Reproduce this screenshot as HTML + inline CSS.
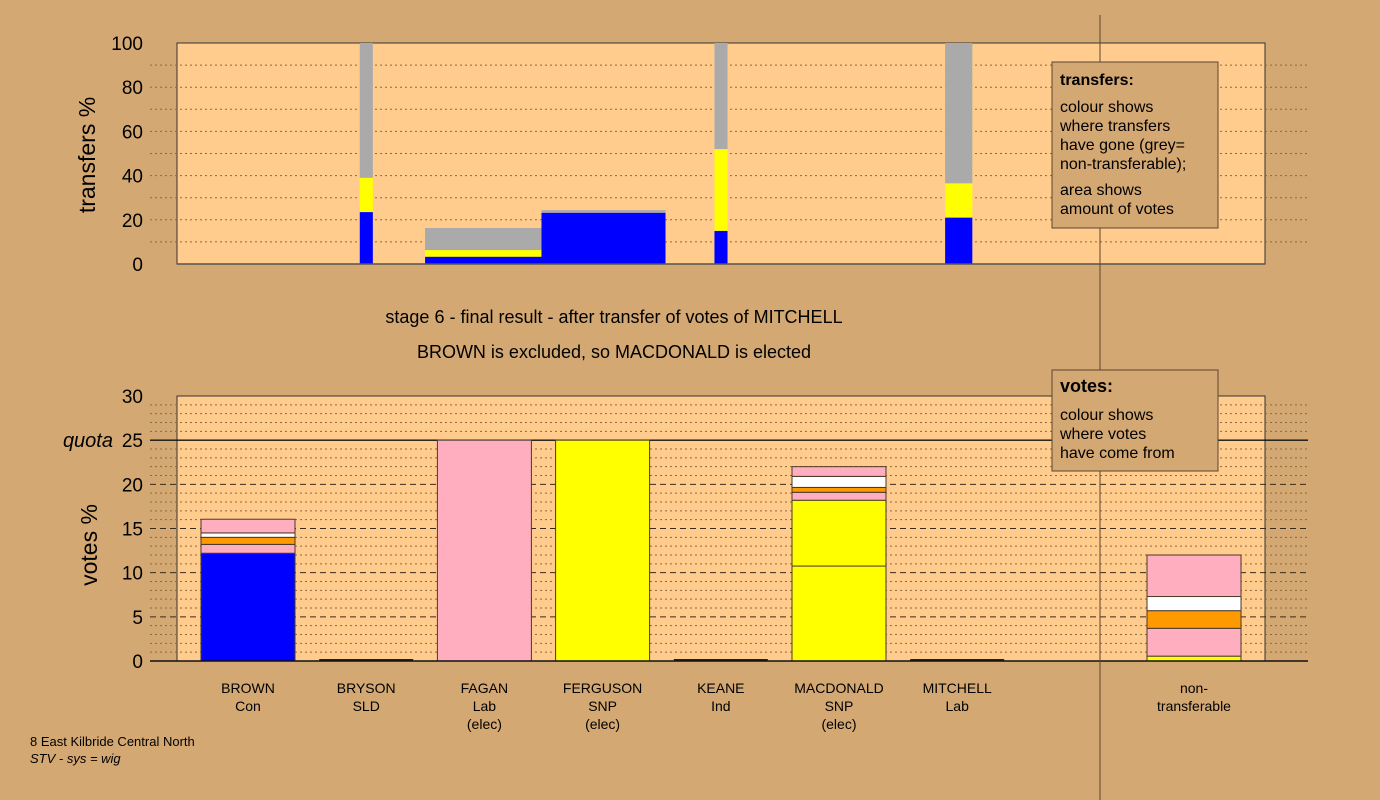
<!DOCTYPE html>
<html><head><meta charset="utf-8"><style>
html,body{margin:0;padding:0;background:#d4a873;}
svg{display:block;font-family:"Liberation Sans",Arial,sans-serif;}
</style></head><body>
<svg id="c" width="1380" height="800" xmlns="http://www.w3.org/2000/svg">
<rect x="0" y="0" width="1380" height="800" fill="#d4a873"/>
<g id="topg"></g>
<g id="botg"></g>
<line x1="1100" y1="15" x2="1100" y2="800" stroke="#5a4630" stroke-width="1"/>
<text x="614" y="323" font-size="18" text-anchor="middle">stage 6 - final result - after transfer of votes of MITCHELL</text>
<text x="614" y="358" font-size="18" text-anchor="middle">BROWN is excluded, so MACDONALD is elected</text>
<text transform="translate(95,155) rotate(-90)" font-size="23" text-anchor="middle">transfers %</text>
<text transform="translate(97,545) rotate(-90)" font-size="23" text-anchor="middle">votes %</text>
<text x="113" y="447" font-size="20" font-style="italic" text-anchor="end">quota</text>
<g>
<rect x="1052" y="62" width="166" height="166" fill="#d4a873" stroke="#5a4630" stroke-width="1"/>
<text x="1060" y="85" font-size="16" font-weight="bold">transfers:</text>
<text font-size="16"><tspan x="1060" y="112">colour shows</tspan><tspan x="1060" y="131">where transfers</tspan><tspan x="1060" y="150">have gone (grey=</tspan><tspan x="1060" y="169">non-transferable);</tspan><tspan x="1060" y="195">area shows</tspan><tspan x="1060" y="214">amount of votes</tspan></text>
</g>
<g>
<rect x="1052" y="370" width="166" height="101" fill="#d4a873" stroke="#5a4630" stroke-width="1"/>
<text x="1060" y="392" font-size="18" font-weight="bold">votes:</text>
<text font-size="16"><tspan x="1060" y="420">colour shows</tspan><tspan x="1060" y="439">where votes</tspan><tspan x="1060" y="458">have come from</tspan></text>
</g>
<text font-size="13" x="30" y="746">8 East Kilbride Central North</text>
<text font-size="13" font-style="italic" x="30" y="763">STV - sys = wig</text>
</svg>
<script>
const NS="http://www.w3.org/2000/svg";
// ---- data ----
const candidates=["BROWN","BRYSON","FAGAN","FERGUSON","KEANE","MACDONALD","MITCHELL","non-"];
const parties=["Con","SLD","Lab","SNP","Ind","SNP","Lab","transferable"];
const elecNote=["","","(elec)","(elec)","","(elec)","",""];
const topTicks=[0,20,40,60,80,100];
const botTicks=[0,5,10,15,20,25,30];
const quota=25;
// votes segments (value, colour) per candidate, bottom to top
const voteVals=[[12.2,1.0,0.8,0.5,1.55],[0],[25],[25],[0],[10.75,7.45,0.9,0.55,1.25,1.1],[0],[0.55,3.15,2.0,1.6,4.7]];
const voteCols=[["#0000ff","#ffaec0","#ff9900","#ffffff","#ffaec0"],["#0000ff"],["#ffaec0"],["#ffff00"],["#ffffff"],["#ffff00","#ffff00","#ffaec0","#ff9900","#ffffff","#ffaec0"],["#ffaec0"],["#ffff00","#ffaec0","#ff9900","#ffffff","#ffaec0"]];
// transfer blocks: start/end along axis (% of width), segment percentages
const trStart=[16.8,22.8,33.5,49.4,70.6];
const trEnd=[18.0,33.5,44.9,50.6,73.1];
const trVals=[[23.5,15.5,61],[3.3,3.0,10.0],[23.2,0,1.2],[15,37,48],[21,15.5,63.5]];
const trCols=["#0000ff","#ffff00","#aaaaaa"];
// ---- geometry ----
const PX0=177,PX1=1265;
const tY=v=>264-v*2.21;
const bY=v=>661-v*(265/30);
const xA=p=>PX0+p*(PX1-PX0)/100;
const catX=i=>i<7?248+i*118.2:1194;
function mk(parent,tag,attrs){const e=document.createElementNS(NS,tag);for(const k in attrs)e.setAttribute(k,attrs[k]);parent.appendChild(e);return e;}
const gTop=document.getElementById('topg'),gBot=document.getElementById('botg');
// top plot
let r=mk(gTop,'rect',{x:PX0,y:tY(100),width:PX1-PX0,height:tY(0)-tY(100),fill:'#ffcc8e',stroke:'#333','stroke-width':1});


for(let v=10;v<100;v+=10){let l=mk(gTop,'line',{x1:150,x2:1308,y1:tY(v),y2:tY(v),stroke:'#8a6a40','stroke-dasharray':'2,3','stroke-width':1});

}
topTicks.forEach(v=>{let t=mk(gTop,'text',{x:143,y:tY(v)+7,'font-size':19,'text-anchor':'end'});t.textContent=v;

});
trStart.forEach((s,i)=>{let acc=0;trVals[i].forEach((v,j)=>{if(v<=0)return;
let b=mk(gTop,'rect',{x:xA(s),width:xA(trEnd[i])-xA(s),y:tY(acc+v),height:tY(acc)-tY(acc+v),fill:trCols[j]});

acc+=v;});});
mk(gTop,'line',{x1:PX0,x2:PX1,y1:264,y2:264,stroke:'#555','stroke-width':1.5});
// bottom plot
r=mk(gBot,'rect',{x:PX0,y:bY(30),width:PX1-PX0,height:bY(0)-bY(30),fill:'#ffcc8e',stroke:'#333','stroke-width':1});


for(let v=1;v<30;v++){if(v===quota)continue;let major=v%5===0;
let l=mk(gBot,'line',{x1:150,x2:1308,y1:bY(v),y2:bY(v),stroke:major?'#3a2a18':'#8a6a40','stroke-dasharray':major?'6,4':'2,3','stroke-width':1});

}
let ql=mk(gBot,'line',{x1:150,x2:1308,y1:bY(quota),y2:bY(quota),stroke:'#111','stroke-width':1.3});


botTicks.forEach(v=>{let t=mk(gBot,'text',{x:143,y:bY(v)+7,'font-size':19,'text-anchor':'end'});t.textContent=v;

});
candidates.forEach((c,i)=>{let acc=0;const cx=catX(i);
voteVals[i].forEach((v,j)=>{if(v<=0)return;
let b=mk(gBot,'rect',{x:cx-47,width:94,y:bY(acc+v),height:bY(acc)-bY(acc+v),fill:voteCols[i][j],stroke:'#4a3a2a','stroke-width':1});

acc+=v;});
if(voteVals[i].every(v=>v<=0)){let z=mk(gBot,'line',{x1:cx-47,x2:cx+47,y1:660,y2:660,stroke:'#222','stroke-width':2});

}
const lines=[c,parties[i],elecNote[i]];
lines.forEach((s,k)=>{if(!s)return;let t=mk(gBot,'text',{x:cx,y:693+k*18,'font-size':14,'text-anchor':'middle'});t.textContent=s;

});});
mk(gBot,'line',{x1:150,x2:1308,y1:661,y2:661,stroke:'#111','stroke-width':1.5});
</script>
</body></html>
